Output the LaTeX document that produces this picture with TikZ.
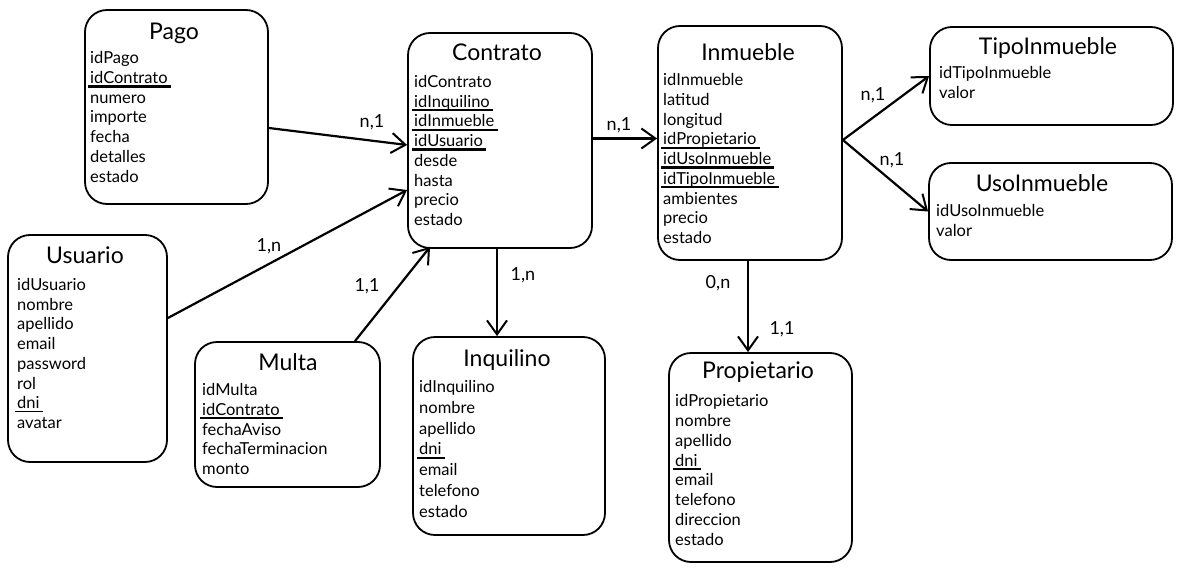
\documentclass[tikz,border=0pt]{standalone}
\usepackage{fontspec}
\setmainfont{Lato}
\usetikzlibrary{arrows.meta}
\tikzset{
  ent/.style={draw, line width=1.8pt, rounded corners=22pt, inner sep=0pt},
  ttl/.style={font=\fontsize{23}{26}\selectfont, inner sep=0pt, anchor=base},
  fld/.style={font=\fontsize{16.5}{19}\selectfont, inner sep=0pt, anchor=base west},
  rel/.style={line width=2.2pt, -{Straight Barb[length=14pt,width=20pt,line width=2pt]}},
  card/.style={font=\fontsize{18}{20}\selectfont, inner sep=0pt},
  fk/.style={line width=2.4pt},
  uk/.style={line width=1.3pt}
}
\newcommand\myfields[5]{% name, x, baseline0, step, list
  \foreach \t [count=\i] in {#5} {\node[fld] (#1-\i) at (#2, {#3+(\i-1)*#4}) {\t};}}
\newcommand\myul[2]{\draw[#1] ([xshift=-2pt,yshift=-3pt]#2.base west) -- ([xshift=3pt,yshift=-3pt]#2.base east);}
\begin{document}
\begin{tikzpicture}[x=1pt,y=-1pt]
\useasboundingbox (0,0) rectangle (1183,578);
% entity boxes
\node[ent, minimum width=183pt, minimum height=194pt] (pago) at (176.5,107) {};
\node[ent, minimum width=184pt, minimum height=215pt] (contrato) at (500,140.5) {};
\node[ent, minimum width=184pt, minimum height=234pt] (inmueble) at (750,143) {};
\node[ent, minimum width=243pt, minimum height=98pt] (tipo) at (1051.5,76) {};
\node[ent, minimum width=243pt, minimum height=97pt] (uso) at (1050.5,211.5) {};
\node[ent, minimum width=159pt, minimum height=227pt] (usuario) at (87.5,348.5) {};
\node[ent, minimum width=185pt, minimum height=145pt] (multa) at (287.5,414.5) {};
\node[ent, minimum width=192pt, minimum height=198pt] (inquilino) at (509,436) {};
\node[ent, minimum width=183pt, minimum height=209pt] (propietario) at (760.5,457.5) {};
% titles
\node[ttl] (pago-t) at (174,40) {Pago};
\node[ttl] (contrato-t) at (497,61) {Contrato};
\node[ttl] (inmueble-t) at (748,60) {Inmueble};
\node[ttl] (tipo-t) at (1048,55) {TipoInmueble};
\node[ttl] (uso-t) at (1042,191) {UsoInmueble};
\node[ttl] (usuario-t) at (85,263) {Usuario};
\node[ttl] (multa-t) at (288,370) {Multa};
\node[ttl] (inquilino-t) at (507,366) {Inquilino};
\node[ttl] (propietario-t) at (758,378) {Propietario};
% fields
\myfields{pago}{90}{63.5}{19.8}{idPago,idContrato,numero,importe,fecha,detalles,estado}
\myfields{contrato}{414}{87.5}{19.7}{idContrato,idInquilino,idInmueble,idUsuario,desde,hasta,precio,estado}
\myfields{inmueble}{663}{85.5}{19.75}{idInmueble,latitud,longitud,idPropietario,idUsoInmueble,idTipoInmueble,ambientes,precio,estado}
\myfields{tipo}{939}{78.5}{20}{idTipoInmueble,valor}
\myfields{uso}{936}{216.5}{19.5}{idUsoInmueble,valor}
\myfields{usuario}{17}{290.5}{19.7}{idUsuario,nombre,apellido,email,password,rol,dni,avatar}
\myfields{multa}{202}{395.5}{19.75}{idMulta,idContrato,fechaAviso,fechaTerminacion,monto}
\myfields{inquilino}{419}{392.5}{20.8}{idInquilino,nombre,apellido,dni,email,telefono,estado}
\myfields{propietario}{675}{406.5}{19.85}{idPropietario,nombre,apellido,dni,email,telefono,direccion,estado}
% underlines
\myul{fk}{pago-2}
\myul{fk}{contrato-2}
\myul{fk}{contrato-3}
\myul{fk}{contrato-4}
\myul{fk}{inmueble-4}
\myul{fk}{inmueble-5}
\myul{fk}{inmueble-6}
\myul{fk}{multa-2}
\myul{uk}{usuario-7}
\myul{uk}{inquilino-4}
\myul{uk}{propietario-4}
% relationships
\draw[rel] ([yshift=-21pt]pago.east) -- ([yshift=-4.5pt]contrato.west);
\draw[rel] ([yshift=30.5pt]usuario.east) -- ([yshift=-49.5pt]contrato.west);
\draw[rel] ([xshift=67.5pt]multa.north) -- ([xshift=-70pt,yshift=2pt]contrato.south);
\draw[rel] ([xshift=-3pt]contrato.south) -- ([xshift=-3pt]contrato.south |- inquilino.north);
\draw[rel] ([yshift=2pt]contrato.east) -- ([yshift=2pt]contrato.east -| inmueble.west);
\draw[rel] ([yshift=3pt]inmueble.east) -- (tipo.west);
\draw[rel] ([yshift=3pt]inmueble.east) -- (uso.west);
\draw[rel] ([xshift=-2pt]inmueble.south) -- ([xshift=-2pt]inmueble.south |- propietario.north);
% cardinalities
\node[card] (c1) at (372,122) {n,1};
\node[card] (c2) at (269,246) {1,n};
\node[card] (c3) at (367,286) {1,1};
\node[card] (c4) at (523,275) {1,n};
\node[card] (c5) at (619,125) {n,1};
\node[card] (c6) at (873,95) {n,1};
\node[card] (c7) at (892,160) {n,1};
\node[card] (c8) at (718,283) {0,n};
\node[card] (c9) at (782,329) {1,1};
\end{tikzpicture}
\end{document}
